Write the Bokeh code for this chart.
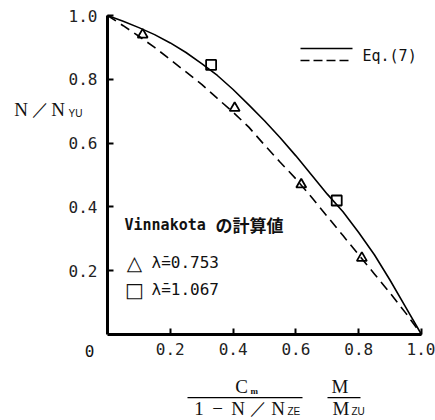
from bokeh.plotting import figure
from bokeh.models import Range1d, FixedTicker, Label, BoxAnnotation, PrintfTickFormatter
from bokeh.embed import file_html
from bokeh.resources import INLINE

# Eq.(7) curves
solid_x = [0.0, 0.05, 0.1, 0.15, 0.2, 0.25, 0.3, 0.35, 0.4, 0.45, 0.5,
           0.55, 0.6, 0.65, 0.7, 0.75, 0.8, 0.85, 0.9, 0.95, 1.0]
solid_y = [1.0, 0.982, 0.962, 0.94, 0.914, 0.884, 0.849, 0.812, 0.768, 0.72, 0.67,
           0.617, 0.56, 0.50, 0.44, 0.385, 0.32, 0.25, 0.17, 0.085, 0.0]
dash_x = [0.0, 0.05, 0.1, 0.15, 0.2, 0.25, 0.3, 0.35, 0.4, 0.45, 0.5,
          0.55, 0.6, 0.65, 0.7, 0.75, 0.8, 0.85, 0.9, 0.95, 1.0]
dash_y = [1.0, 0.968, 0.935, 0.90, 0.862, 0.823, 0.784, 0.74, 0.697, 0.65, 0.594,
          0.54, 0.488, 0.43, 0.37, 0.31, 0.25, 0.19, 0.13, 0.067, 0.0]

# Vinnakota results
tri_x = [0.112, 0.405, 0.617, 0.81]
tri_y = [0.94, 0.71, 0.47, 0.24]
sq_x = [0.33, 0.73]
sq_y = [0.845, 0.42]

ticks = [0.2, 0.4, 0.6, 0.8, 1.0]

W, H = 435, 420
L, Rp, T, Bp = 107, 421, 15, 334      # plot area in pixels
sx = (Rp - L)
sy = (Bp - T)

def dx(px):
    return (px - L) / sx

def dy(py):
    return (Bp - py) / sy

p = figure(width=W, height=H, output_backend="svg", toolbar_location=None,
           x_range=Range1d(dx(0), dx(W)), y_range=Range1d(dy(H), dy(0)),
           min_border=0)
p.grid.visible = False
p.outline_line_color = None
p.background_fill_color = "white"

for ax in (p.xaxis[0], p.yaxis[0]):
    ax.fixed_location = 0
    ax.bounds = (0, 1)
    ax.ticker = FixedTicker(ticks=ticks)
    ax.formatter = PrintfTickFormatter(format="%.1f")
    ax.axis_line_width = 3
    ax.axis_line_color = "black"
    ax.major_tick_in = 6
    ax.major_tick_out = 0
    ax.major_tick_line_width = 2
    ax.minor_tick_line_color = None
    ax.major_label_text_font = "DejaVu Sans Mono"
    ax.major_label_text_font_size = "16px"
    ax.major_label_text_color = "#222222"
p.xaxis[0].major_label_standoff = 8
p.yaxis[0].major_label_standoff = 10

p.line(solid_x, solid_y, line_color="black", line_width=1.6)
p.line(dash_x, dash_y, line_color="black", line_width=1.6, line_dash="10 6")
p.scatter(tri_x, tri_y, marker="triangle", size=10, fill_alpha=0,
          line_color="black", line_width=1.8)
p.scatter(sq_x, sq_y, marker="square", size=10, fill_alpha=0,
          line_color="black", line_width=1.8)

# legend sample lines
p.line([dx(300), dx(352)], [dy(48), dy(48)], line_color="black", line_width=1.5)
p.line([dx(300), dx(352)], [dy(60), dy(60)], line_color="black", line_width=1.5, line_dash="9 4")

def lab(txt, px, py, font="DejaVu Sans Mono", size="15px", align="left", style="normal"):
    p.add_layout(Label(x=dx(px), y=dy(py), text=txt, text_font=font, text_font_size=size,
                       text_align=align, text_baseline="middle", text_color="#111111",
                       text_font_style=style))

lab("Eq.(7)", 362, 55)
lab("Vinnakota", 124, 224, size="15px", style="bold")
lab("の計算値", 215, 224, font="Noto Sans CJK JP", size="17px", style="bold")
lab("△", 134, 262, font="DejaVu Sans", size="20px", align="center")
lab("λ̄=0.753", 151, 262, size="16px")
lab("□", 134, 289, font="DejaVu Sans", size="20px", align="center")
lab("λ̄=1.067", 151, 289, size="16px")
lab("0", 89, 350, size="16px", align="center")

SERIF = "Liberation Serif"
SUB = "Liberation Sans"

# y-axis label  N / N_YU
lab("N", 20.5, 109, font=SERIF, size="19px", align="center")
lab("／", 39.5, 109, font=SERIF, size="17px", align="center")
lab("N", 57.5, 109, font=SERIF, size="19px", align="center")
lab("YU", 68, 113, font=SUB, size="10px")

# x-axis label: Cm / (1 - N/N_ZE) * M / M_ZU
lab("C", 241, 386, font=SERIF, size="19px", align="center")
lab("m", 250, 390, font=SERIF, size="9px", style="bold")
lab("1", 198.5, 408, font=SERIF, size="19px", align="center")
lab("−", 217, 408, font=SERIF, size="19px", align="center")
lab("N", 237.5, 408, font=SERIF, size="19px", align="center")
lab("／", 257.5, 408, font=SERIF, size="17px", align="center")
lab("N", 277.5, 408, font=SERIF, size="19px", align="center")
lab("ZE", 287, 411, font=SUB, size="10px")
lab("M", 339.5, 386, font=SERIF, size="19px", align="center")
lab("M", 340.5, 408, font=SERIF, size="19px", align="center")
lab("ZU", 351, 411, font=SUB, size="10px")

for x0, x1 in ((187, 302), (327, 360)):
    p.add_layout(BoxAnnotation(left=dx(x0), right=dx(x1), top=dy(396.5), bottom=dy(397.8),
                               fill_color="black", fill_alpha=1, line_color=None))

open("out.html", "w").write(file_html(p, INLINE))
